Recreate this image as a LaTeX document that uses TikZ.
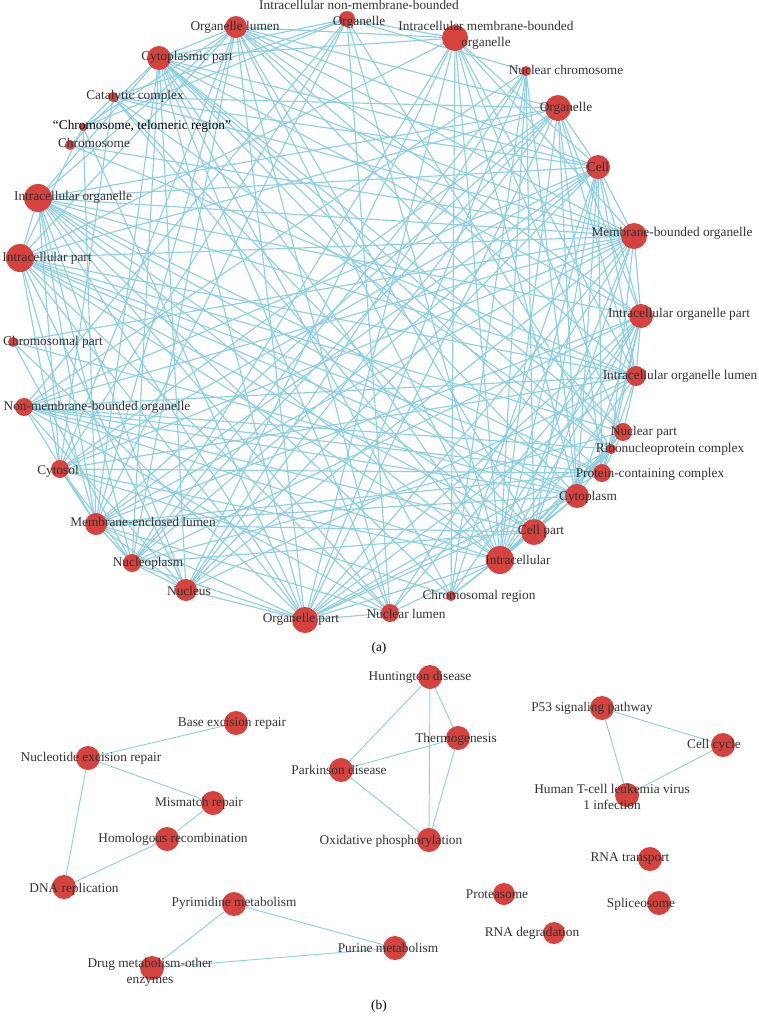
\documentclass[tikz,border=0pt]{standalone}
\usepackage{fontspec}
\setmainfont{Liberation Serif}
\usepackage{tikz}

\definecolor{nodered}{RGB}{214,66,62}
\definecolor{edgeblue}{RGB}{140,206,226}
\definecolor{labelgray}{RGB}{50,50,50}

\pgfdeclarelayer{edges}
\pgfsetlayers{edges,main}

\tikzset{
  gonode/.style={circle, fill=nodered, inner sep=0pt},
  goedge/.style={draw=edgeblue, line width=0.85pt},
  golabel/.style={font=\fontsize{10}{12}\selectfont, text=labelgray, inner sep=0pt, align=center},
  subcap/.style={font=\fontsize{10}{12}\selectfont, text=black, inner sep=0pt}
}

% node sizes of the GO network (radius in px)
\def\nsize{{8,13,5,13,12,13,12,10,9,5,9,12,13,14,5,9,13,11,9,11,9,9,5,14,14,5,4,5,12,11}}

\begin{document}
\begin{tikzpicture}[x=0.75pt, y=-0.75pt]
  \useasboundingbox (0,0) rectangle (759,1025);

  % (a) GO cellular component network
  \foreach \x/\y [count=\k from 0] in {347/19, 455/38, 526/71, 558/108, 598/167, 634/236,
      641/316, 636/376, 623/432, 611/449, 602/473, 577/496, 534/532, 500/560, 451/596,
      390/613, 305/620, 186/590, 132/563, 96/524, 60/469, 24/407, 13/342, 20/258, 38/198,
      70/145, 83/127, 113/97, 159/58, 236/27}{
    \pgfmathsetmacro\rr{1.5*\nsize[\k]}
    \node[gonode, minimum size=\rr pt] (a\k) at (\x,\y) {};
  }

  % edges, denser between the larger terms
  \pgfmathsetseed{4021}
  \begin{pgfonlayer}{edges}
  \foreach \i in {0,...,29}{
    \foreach \j in {0,...,29}{
      \ifnum\j>\i
        \pgfmathparse{rnd < \nsize[\i]*\nsize[\j]/205}
        \ifdim\pgfmathresult pt>0.5pt \draw[goedge] (a\i.center) -- (a\j.center); \fi
      \fi
    }
  }
  \end{pgfonlayer}

  \foreach \x/\y/\t [count=\k from 0] in {
      359/14/{Intracellular non-membrane-bounded\\Organelle},
      486/35/{Intracellular membrane-bounded\\organelle},
      566/70/{Nuclear chromosome}, 566/108/{Organelle}, 598/167/{Cell},
      672/233/{Membrane-bounded organelle}, 679/314/{Intracellular organelle part},
      680/376/{Intracellular organelle lumen}, 644/432/{Nuclear part},
      670/449/{Ribonucleoprotein complex}, 650/474/{Protein-containing complex},
      588/497/{Cytoplasm}, 541/531/{Cell part}, 518/560/{Intracellular},
      479/596/{Chromosomal region}, 406/614/{Nuclear lumen}, 301/619/{Organelle part},
      189/591/{Nucleus}, 148/563/{Nucleoplasm}, 143/522/{Membrane-enclosed lumen},
      58/471/{Cytosol}, 97/407/{Non-membrane-bounded organelle}, 53/342/{Chromosomal part},
      47/258/{Intracellular part}, 73/197/{Intracellular organelle}, 94/143/{Chromosome},
      142/126/{}, 135/96/{Catalytic complex}, 187/57/{Cytoplasmic part},
      235/27/{Organelle lumen}}{
    \node[golabel] (la\k) at (\x,\y) {\t};
  }
  \node[golabel, text=black] (telo) at (142,126) {“Chromosome, telomeric region”};
  \node[subcap] (capa) at (379,648) {(a)};

  % (b) KEGG pathway clusters
  \foreach \n/\x/\y in {hunt/430/677, thermo/458/738, park/341/770, oxphos/429/840,
      ptf/602/708, ccyc/723/745, htlv/627/795, rnatr/650/859, splic/659/903,
      ber/236/723, ner/88/758, mmr/213/803, hr/167/839, dnarep/64/887,
      pyrim/234/904, drug/152/968, purine/395/948}{
    \node[gonode, minimum size=18pt] (\n) at (\x,\y) {};
  }
  \node[gonode, minimum size=16.5pt] (prot) at (504,894) {};
  \node[gonode, minimum size=16.5pt] (rnadeg) at (554,933) {};

  \begin{pgfonlayer}{edges}
  \foreach \u/\v in {hunt/park, hunt/thermo, hunt/oxphos, park/thermo, park/oxphos,
      thermo/oxphos, ptf/ccyc, ptf/htlv, ccyc/htlv, ner/ber, ner/mmr, ner/dnarep,
      mmr/hr, hr/dnarep, pyrim/drug, pyrim/purine, drug/purine}
    \draw[goedge, line width=0.7pt] (\u) -- (\v);
  \end{pgfonlayer}

  \foreach \n/\x/\y/\t in {hunt/420/677/{Huntington disease}, thermo/456/739/{Thermogenesis},
      park/339/770/{Parkinson disease}, oxphos/391/841/{Oxidative phosphorylation},
      ptf/592/708/{P53 signaling pathway}, ccyc/714/745/{Cell cycle},
      htlv/612/797/{Human T-cell leukemia virus\\1 infection},
      rnatr/630/859/{RNA transport}, splic/641/904/{Spliceosome},
      prot/497/894/{Proteasome}, rnadeg/532/933/{RNA degradation},
      purine/388/948/{Purine metabolism}, ber/232/723/{Base excision repair},
      ner/91/758/{Nucleotide excision repair}, mmr/199/803/{Mismatch repair},
      hr/173/839/{Homologous recombination}, dnarep/74/889/{DNA replication},
      pyrim/234/903/{Pyrimidine metabolism}, drug/150/972/{Drug metabolism-other\\enzymes}}{
    \node[golabel] (l\n) at (\x,\y) {\t};
  }
  \node[subcap] (capb) at (379,1006) {(b)};
\end{tikzpicture}
\end{document}
